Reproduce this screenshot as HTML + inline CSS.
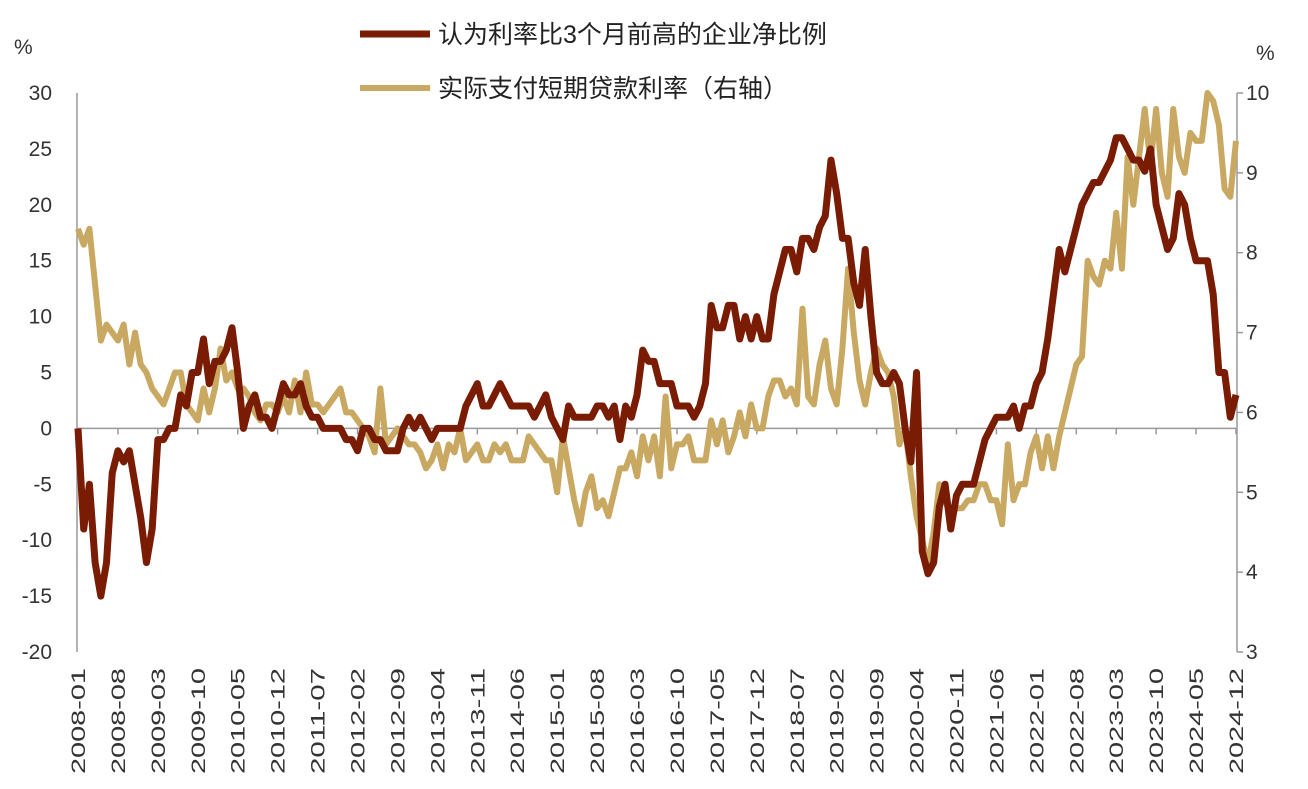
<!DOCTYPE html>
<html><head><meta charset="utf-8"><style>
body{margin:0;background:#fff;}
svg{display:block;font-family:"Liberation Sans","Noto Sans CJK SC",sans-serif;}
</style></head><body>
<svg id="chart" width="1308" height="789" viewBox="0 0 1308 789"></svg>
<script>
const startYear = 2008;
const netShare = [
0,-9,-5,-12,-15,-12,-4,-2,-3,-2,-5,-8,
-12,-9,-1,-1,0,0,3,2,5,5,8,4,
6,6,7,9,5,0,2,3,1,1,0,2,
4,3,3,4,2,1,1,0,0,0,0,-1,
-1,-2,0,0,-1,-1,-2,-2,-2,0,1,0,
1,0,-1,0,0,0,0,0,2,3,4,2,
2,3,4,3,2,2,2,2,1,2,3,1,
0,-1,2,1,1,1,1,2,2,1,2,-1,
2,1,3,7,6,6,4,4,4,2,2,2,
1,2,4,11,9,9,11,11,8,10,8,10,
8,8,12,14,16,16,14,17,17,16,18,19,
24,21,17,17,13,11,16,10,5,4,4,5,
4,0,-3,5,-11,-13,-12,-7,-5,-9,-6,-5,
-5,-5,-3,-1,0,1,1,1,2,0,2,2,
4,5,8,12,16,14,16,18,20,21,22,22,
23,24,26,26,25,24,24,23,25,20,18,16,
17,21,20,17,15,15,15,12,5,5,1,3];
const loanRate = [
8.3,8.1,8.3,7.6,6.9,7.1,7.0,6.9,7.1,6.6,7.0,6.6,
6.5,6.3,6.2,6.1,6.3,6.5,6.5,6.1,6.0,5.9,6.3,6.0,
6.3,6.8,6.4,6.5,6.3,6.3,6.2,6.0,5.9,6.1,6.1,6.0,
6.2,6.0,6.4,6.0,6.5,6.1,6.1,6.0,6.1,6.2,6.3,6.0,
6.0,5.9,5.8,5.7,5.5,6.3,5.6,5.7,5.8,5.7,5.6,5.6,
5.5,5.3,5.4,5.6,5.3,5.6,5.5,5.8,5.4,5.5,5.6,5.4,
5.4,5.6,5.5,5.6,5.4,5.4,5.4,5.7,5.6,5.5,5.4,5.4,
5.0,5.7,5.3,4.9,4.6,5.0,5.2,4.8,4.9,4.7,5.0,5.3,
5.3,5.5,5.2,5.7,5.4,5.7,5.2,6.2,5.3,5.6,5.6,5.7,
5.4,5.4,5.4,5.9,5.6,5.9,5.5,5.7,6.0,5.7,6.1,5.8,
5.8,6.2,6.4,6.4,6.2,6.3,6.1,7.3,6.2,6.1,6.6,6.9,
6.3,6.1,6.8,7.8,7.0,6.4,6.1,6.5,6.8,6.6,6.5,6.2,
5.6,5.8,5.2,4.7,4.4,4.1,4.5,5.1,4.9,4.7,4.8,4.8,
4.9,4.9,5.1,5.1,4.9,4.9,4.6,5.6,4.9,5.1,5.1,5.5,
5.7,5.3,5.7,5.3,5.7,6.0,6.3,6.6,6.7,7.9,7.7,7.6,
7.9,7.8,8.5,7.8,9.2,8.6,9.2,9.8,9.1,9.8,9.0,8.7,
9.8,9.2,9.0,9.5,9.4,9.4,10.0,9.9,9.6,8.8,8.7,9.4];
const leftTicks = [30,25,20,15,10,5,0,-5,-10,-15,-20];
const rightTicks = [10,9,8,7,6,5,4,3];

const NS="http://www.w3.org/2000/svg";
const svg=document.getElementById('chart');
const X0=78,X1=1236,YT=93,YB=652;
const n=netShare.length;
const xs=i=>X0+(X1-X0)*i/(n-1);
const yL=v=>YT+(30-v)*(YB-YT)/50;
const yR=v=>YT+(10-v)*(YB-YT)/7;
function mk(tag,attrs,txt){const e=document.createElementNS(NS,tag);for(const k in attrs)e.setAttribute(k,attrs[k]);if(txt!==undefined)e.textContent=txt;svg.appendChild(e);return e;}

let e;
e=mk('line',{x1:X0-1,y1:YT,x2:X0-1,y2:YB,stroke:'#999','stroke-width':1.5});


e=mk('line',{x1:X1+1,y1:YT,x2:X1+1,y2:YB,stroke:'#999','stroke-width':1.5});


e=mk('line',{x1:X0,y1:yL(0),x2:X1,y2:yL(0),stroke:'#999','stroke-width':1.5});



leftTicks.forEach(v=>{
  e=mk('text',{x:52,y:yL(v)+7,'text-anchor':'end','font-size':21,fill:'#333'},String(v));
  
  
});
rightTicks.forEach(v=>{
  e=mk('line',{x1:X1+1,y1:yR(v),x2:X1+7,y2:yR(v),stroke:'#999','stroke-width':1.5});
  
  
  e=mk('text',{x:1246,y:yR(v)+7,'font-size':21,fill:'#333'},String(v));
  
  
});
for(let i=0;i<n;i+=7){
  const x=xs(i);
  e=mk('line',{x1:x,y1:yL(0),x2:x,y2:yL(0)+6,stroke:'#999','stroke-width':1.5});
  
  
  const yr=startYear+Math.floor(i/12), mo=i%12+1;
  e=mk('text',{x:0,y:0,'font-size':19,fill:'#333','text-anchor':'end',textLength:106,lengthAdjust:'spacingAndGlyphs',transform:`translate(${x+7},668) rotate(-90)`},yr+'-'+String(mo).padStart(2,'0'));
  
  
}
e=mk('text',{x:14,y:54,'font-size':21,fill:'#333'},'%');


e=mk('text',{x:1256,y:60,'font-size':21,fill:'#333'},'%');



e=mk('polyline',{points:loanRate.map((v,i)=>xs(i)+','+yR(v)).join(' '),fill:'none',stroke:'#C9A862','stroke-width':6,'stroke-linejoin':'round'});


e=mk('polyline',{points:netShare.map((v,i)=>xs(i)+','+yL(v)).join(' '),fill:'none',stroke:'#7A1C04','stroke-width':7,'stroke-linejoin':'round'});



e=mk('line',{x1:360,y1:34,x2:430,y2:34,stroke:'#7A1C04','stroke-width':7});


e=mk('text',{x:438,y:43,'font-size':25,fill:'#222'},'认为利率比3个月前高的企业净比例');


e=mk('line',{x1:360,y1:88,x2:430,y2:88,stroke:'#C9A862','stroke-width':6});


e=mk('text',{x:438,y:97,'font-size':25,fill:'#222'},'实际支付短期贷款利率（右轴）');


</script>
</body></html>
